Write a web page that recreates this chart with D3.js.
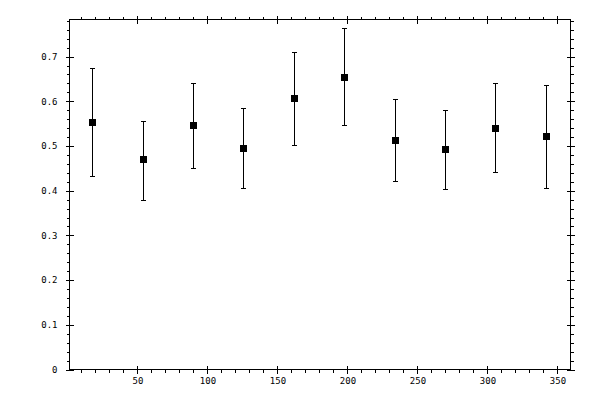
<!DOCTYPE html>
<html>
<head>
<meta charset="utf-8">
<script src="https://cdn.jsdelivr.net/npm/d3@7"></script>
<style>
  body { margin: 0; background: #fff; }
  .axis path { display: none; }
  .axis line { stroke: #000; stroke-width: 1; shape-rendering: crispEdges; }
  .axis text { font-family: "DejaVu Sans Mono", monospace; font-size: 9px; fill: #000; }
</style>
</head>
<body>
<svg id="chart" width="600" height="400"></svg>
<script>
// data
const angles = [18, 54, 90, 126, 162, 198, 234, 270, 306, 342];
const values = [0.554, 0.470, 0.548, 0.496, 0.608, 0.655, 0.514, 0.494, 0.541, 0.523];
const upper = [0.675, 0.557, 0.642, 0.586, 0.710, 0.763, 0.605, 0.581, 0.642, 0.637];
const lower = [0.433, 0.380, 0.451, 0.407, 0.503, 0.548, 0.422, 0.404, 0.442, 0.407];

const xMajor = [50, 100, 150, 200, 250, 300, 350];
const xMinor = [10, 20, 30, 40, 60, 70, 80, 90, 110, 120, 130, 140, 160, 170, 180, 190,
  210, 220, 230, 240, 260, 270, 280, 290, 310, 320, 330, 340];
const yMajor = [0, 0.1, 0.2, 0.3, 0.4, 0.5, 0.6, 0.7];
const yMinor = [0.02, 0.04, 0.06, 0.08, 0.12, 0.14, 0.16, 0.18, 0.22, 0.24, 0.26, 0.28,
  0.32, 0.34, 0.36, 0.38, 0.42, 0.44, 0.46, 0.48, 0.52, 0.54, 0.56, 0.58,
  0.62, 0.64, 0.66, 0.68, 0.72, 0.74, 0.76, 0.78];

const points = angles.map((a, i) => ({ a: a, v: values[i], hi: upper[i], lo: lower[i] }));

const svg = d3.select("svg#chart");

const frame = { left: 69.5, right: 570.5, top: 19.5, bottom: 369.5 };

const xScale = d3.scaleLinear().domain([1.43, 359.3]).range([frame.left, frame.right]);
const yScale = d3.scaleLinear().domain([0, 0.783]).range([frame.bottom, frame.top]);

// snap to pixel centres
const px = d => Math.floor(xScale(d)) + 0.5;
const py = d => Math.round(yScale(d)) + 0.5;

// frame
svg.append("rect")
  .attr("x", frame.left).attr("y", frame.top)
  .attr("width", frame.right - frame.left).attr("height", frame.bottom - frame.top)
  .attr("fill", "none").attr("stroke", "#000")
  .attr("shape-rendering", "crispEdges");

// ticks: minor outside, major across the frame
function addTicks(axisFn, scale, pos, transform) {
  svg.append("g").attr("class", "axis").attr("transform", transform)
    .call(axisFn(scale).tickValues(pos.minor).tickSize(3).tickFormat(""));
  svg.append("g").attr("class", "axis").attr("transform", transform)
    .call(axisFn(scale).tickValues(pos.major).tickSize(4).tickFormat(""));
  svg.append("g").attr("class", "axis").attr("transform", transform)
    .call(axisFn(scale).tickValues(pos.major).tickSize(-4).tickFormat(""));
}

const xt = { major: xMajor, minor: xMinor };
const yt = { major: yMajor, minor: yMinor };

addTicks(d3.axisBottom, xScale, xt, `translate(0,${frame.bottom})`);
addTicks(d3.axisTop, xScale, xt, `translate(0,${frame.top})`);
addTicks(d3.axisLeft, yScale, yt, `translate(${frame.left},0)`);
addTicks(d3.axisRight, yScale, yt, `translate(${frame.right},0)`);

// labels
svg.append("g").attr("class", "axis").attr("transform", `translate(0,${frame.bottom})`)
  .call(d3.axisBottom(xScale).tickValues(xMajor).tickSize(0).tickPadding(8).tickFormat(d3.format("d")));

svg.append("g").attr("class", "axis").attr("transform", `translate(${frame.left},0)`)
  .call(d3.axisLeft(yScale).tickValues(yMajor).tickSize(0).tickPadding(12).tickFormat(d => d === 0 ? "0" : d3.format(".1f")(d)));

// error bars
const bars = svg.append("g").attr("stroke", "#000").attr("stroke-width", 1);

bars.selectAll("line.err")
  .data(points)
  .join("line")
  .attr("class", "err")
  .attr("x1", d => px(d.a))
  .attr("x2", d => px(d.a))
  .attr("y1", d => py(d.lo))
  .attr("y2", d => py(d.hi));

const cap = 2.5;
bars.selectAll("line.capHi")
  .data(points)
  .join("line")
  .attr("class", "capHi")
  .attr("x1", d => px(d.a) - cap)
  .attr("x2", d => px(d.a) + cap)
  .attr("y1", d => py(d.hi))
  .attr("y2", d => py(d.hi));

bars.selectAll("line.capLo")
  .data(points)
  .join("line")
  .attr("class", "capLo")
  .attr("x1", d => px(d.a) - cap)
  .attr("x2", d => px(d.a) + cap)
  .attr("y1", d => py(d.lo))
  .attr("y2", d => py(d.lo));

// square markers
const sq = 7;
svg.selectAll("rect.pt")
  .data(points)
  .join("rect")
  .attr("class", "pt")
  .attr("x", d => px(d.a) - sq / 2)
  .attr("y", d => py(d.v) - sq / 2)
  .attr("width", sq)
  .attr("height", sq)
  .attr("fill", "#000");
</script>
</body>
</html>
